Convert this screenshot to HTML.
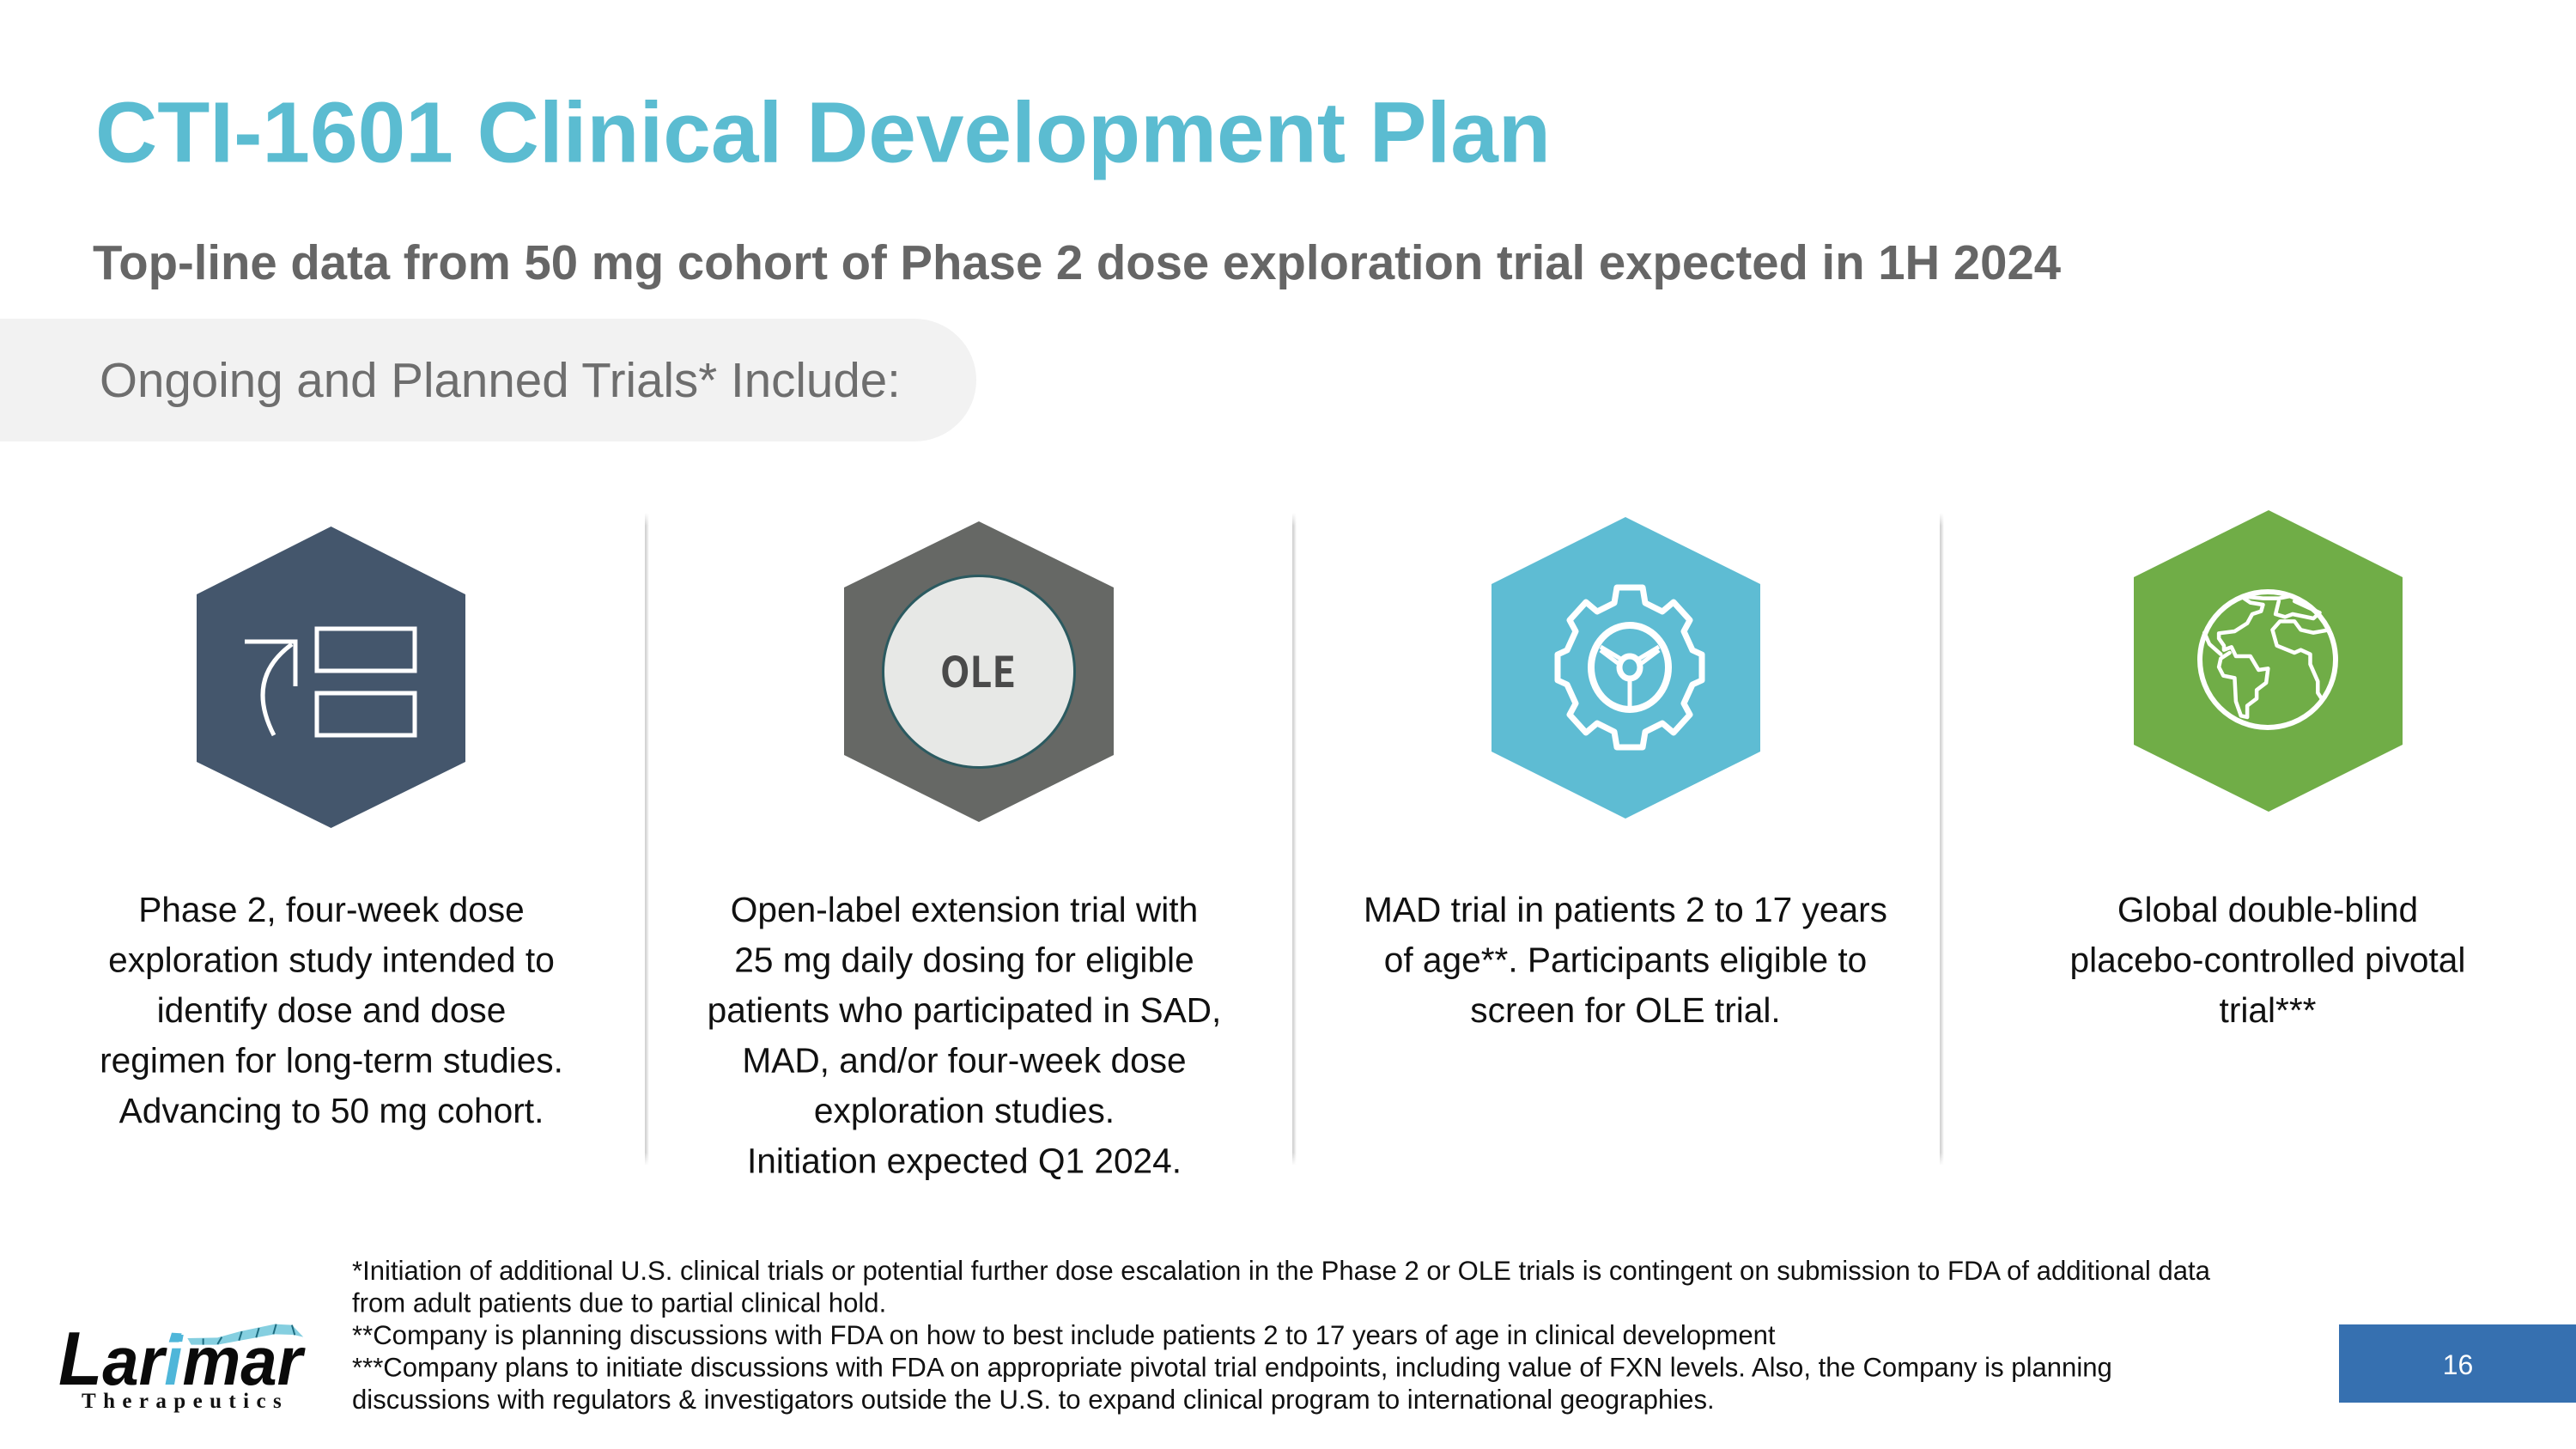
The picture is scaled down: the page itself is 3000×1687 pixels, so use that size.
<!DOCTYPE html>
<html lang="en">
<head>
<meta charset="utf-8">
<title>CTI-1601 Clinical Development Plan</title>
<style>
html,body{margin:0;padding:0;background:#fff;width:3000px;height:1687px;overflow:hidden}
svg{display:block}
text{font-family:"Liberation Sans",Arial,sans-serif}
.body-text{font-size:40.65px;fill:#111;text-anchor:middle}
.foot{font-size:31.1px;fill:#111}
.trace{fill:none;stroke:#fff;vector-effect:non-scaling-stroke;stroke-linejoin:round;stroke-linecap:round}
</style>
</head>
<body>
<svg width="3000" height="1687" viewBox="0 0 3000 1687" xmlns="http://www.w3.org/2000/svg">
<defs>
<linearGradient id="divGradX" x1="0" x2="1" y1="0" y2="0">
<stop offset="0" stop-color="#cfcfcf"/><stop offset=".4" stop-color="#dcdcdc"/><stop offset="1" stop-color="#ffffff"/>
</linearGradient>
<linearGradient id="divMask" x1="0" x2="0" y1="0" y2="1">
<stop offset="0" stop-color="#000"/><stop offset=".02" stop-color="#fff"/><stop offset=".98" stop-color="#fff"/><stop offset="1" stop-color="#000"/>
</linearGradient>
<mask id="divFade" maskUnits="userSpaceOnUse" x="0" y="590" width="3000" height="775">
<rect x="0" y="597" width="3000" height="760" fill="url(#divMask)"/>
</mask>
</defs>
<rect width="3000" height="1687" fill="#fff"/>

<text x="111" y="188.500" font-size="100" font-weight="700" fill="#5bbcd1">CTI-1601 Clinical Development Plan</text>
<text x="108" y="325" font-size="56.3" font-weight="700" fill="#666">Top-line data from 50 mg cohort of Phase 2 dose exploration trial expected in 1H 2024</text>

<path d="M0 371H1065A72 71.500 0 0 1 1065 514H0Z" fill="#f2f2f2"/>
<text x="116" y="462" font-size="56.5" fill="#6e6e6e">Ongoing and Planned Trials* Include:</text>

<g mask="url(#divFade)">
<rect x="751" y="597" width="5" height="760" fill="url(#divGradX)"/>
<rect x="1505" y="597" width="5" height="760" fill="url(#divGradX)"/>
<rect x="2259" y="597" width="5" height="760" fill="url(#divGradX)"/>
</g>

<!-- Hexagon 1 -->
<polygon points="385.500,613 542,692 542,887 385.500,964 229,887 229,692" fill="#44566c"/>
<g fill="none" stroke="#fff" stroke-width="5">
<rect x="369" y="732" width="114" height="49"/>
<rect x="369" y="807" width="114" height="49"/>
<path d="M285 747H344V799"/>
<path d="M319 856Q285 790 340 750"/>
</g>

<!-- Hexagon 2 -->
<polygon points="1140,607 1297,684 1297,879 1140,957 983,879 983,684" fill="#666865"/>
<circle cx="1140" cy="782" r="111.500" fill="#e7e8e6" stroke="#2b5a60" stroke-width="3"/>
<text x="1139" y="800" font-size="49" font-weight="700" fill="#4a4a4a" text-anchor="middle" textLength="88" lengthAdjust="spacingAndGlyphs" style="font-family:'Noto Sans CJK JP','Liberation Sans',sans-serif">OLE</text>

<!-- Hexagon 3 -->
<polygon points="1893,602 2050,680 2050,875 1893,953 1737,875 1737,680" fill="#5ebcd3"/>
<g transform="translate(1898,777)" fill="none" stroke="#fff" stroke-linejoin="round">
<polygon stroke-width="7" points="-15,-93 15,-93 18,-75 38,-65 51,-76 70,-55 63,-42 73,-20 84,-15 84,15 73,20 63,42 70,55 51,76 38,65 18,75 15,93 -15,93 -18,75 -38,65 -51,76 -70,55 -63,42 -73,20 -84,15 -84,-15 -73,-20 -63,-42 -70,-55 -51,-76 -38,-65 -18,-75"/>
<ellipse rx="45" ry="49" stroke-width="8"/>
<ellipse rx="12" ry="13" stroke-width="7"/>
<path stroke-width="5" d="M0 15V47M-9 -9L-34 -24M9 -9L34 -24M-14 -5L-34 -20M14 -5L34 -20"/>
</g>

<!-- Hexagon 4 -->
<polygon points="2642,594 2798,672 2798,867 2642,945 2485,867 2485,672" fill="#70ad47"/>
<g>
<ellipse cx="2641" cy="768" rx="79" ry="79" fill="none" stroke="#fff" stroke-width="6"/>
<g transform="translate(1700,580) scale(.7337,.3333)">
<polyline class="trace" stroke-width="4.500" points="1245,350 1255,365 1275,372 1272,395 1258,405 1250,437 1230,465 1205,472 1205,490 1213,515 1213,530 1225,520 1232,552 1255,552 1268,600 1283,595 1280,645 1265,670 1265,700 1250,725 1250,765 1240,760 1232,710 1230,628 1212,620 1205,590 1208,560 1222,540"/>
<polyline class="trace" stroke-width="4.500" points="1182,470 1190,510 1208,545"/>
<polyline class="trace" stroke-width="4.500" points="1252,345 1275,350 1300,350 1318,342"/>
<polyline class="trace" stroke-width="4.500" points="1300,360 1295,405 1310,415 1322,405 1355,420 1365,400 1345,380 1325,360"/>
<polyline class="trace" stroke-width="4.500" points="1380,460 1355,470 1335,460 1325,430 1302,430 1290,460 1297,515 1325,540 1335,530 1350,545 1350,580 1362,640 1362,680 1368,700"/>
</g>
</g>

<!-- Column text -->
<g>
<text class="body-text" x="386" y="1073">Phase 2, four-week dose</text>
<text class="body-text" x="386" y="1131.500">exploration study intended to</text>
<text class="body-text" x="386" y="1190">identify dose and dose</text>
<text class="body-text" x="386" y="1248.500">regimen for long-term studies.</text>
<text class="body-text" x="386" y="1307">Advancing to 50 mg cohort.</text>
</g>
<g>
<text class="body-text" x="1123" y="1073">Open-label extension trial with</text>
<text class="body-text" x="1123" y="1131.500">25 mg daily dosing for eligible</text>
<text class="body-text" x="1123" y="1190">patients who participated in SAD,</text>
<text class="body-text" x="1123" y="1248.500">MAD, and/or four-week dose</text>
<text class="body-text" x="1123" y="1307">exploration studies.</text>
<text class="body-text" x="1123" y="1365.500">Initiation expected Q1 2024.</text>
</g>
<g>
<text class="body-text" x="1893" y="1073">MAD trial in patients 2 to 17 years</text>
<text class="body-text" x="1893" y="1131.500">of age**. Participants eligible to</text>
<text class="body-text" x="1893" y="1190">screen for OLE trial.</text>
</g>
<g>
<text class="body-text" x="2641" y="1073">Global double-blind</text>
<text class="body-text" x="2641" y="1131.500">placebo-controlled pivotal</text>
<text class="body-text" x="2641" y="1190">trial***</text>
</g>

<!-- Footnotes -->
<g>
<text class="foot" x="410" y="1490">*Initiation of additional U.S. clinical trials or potential further dose escalation in the Phase 2 or OLE trials is contingent on submission to FDA of additional data</text>
<text class="foot" x="410" y="1527.500">from adult patients due to partial clinical hold.</text>
<text class="foot" x="410" y="1565">**Company is planning discussions with FDA on how to best include patients 2 to 17 years of age in clinical development</text>
<text class="foot" x="410" y="1602.500">***Company plans to initiate discussions with FDA on appropriate pivotal trial endpoints, including value of FXN levels. Also, the Company is planning</text>
<text class="foot" x="410" y="1640">discussions with regulators &amp; investigators outside the U.S. to expand clinical program to international geographies.</text>
</g>

<!-- Logo -->
<g>
<g transform="translate(40,1500) scale(.3333)">
<polygon points="480,155 515,157 505,188 470,188" fill="#4fb6d9"/>
<path d="M535 174L640 172L720 150L840 125L900 128L940 170L905 162L840 160L720 182L640 197L548 197Z" fill="#85cfe0"/>
<path d="M590 175V197M655 170L640 195M725 150L715 182M785 138L775 172M845 125L835 160M900 128L910 163" fill="none" stroke="#1d6c80" stroke-width="6"/>
</g>
<text transform="translate(68,1612) scale(.953,1)" font-size="88" font-weight="700" font-style="italic" fill="#0a0a0a">L<tspan font-size="80">ar<tspan fill="#4fb6d9">i</tspan>mar</tspan></text>
<text x="95" y="1639" font-size="25" font-weight="700" letter-spacing="8.400" fill="#111" style="font-family:'Liberation Serif',serif">Therapeutics</text>
</g>

<!-- Page number -->
<rect x="2724" y="1542" width="276" height="91" fill="#3670b0"/>
<text x="2862.500" y="1600" font-size="32" fill="#fff" text-anchor="middle">16</text>
</svg>
</body>
</html>
